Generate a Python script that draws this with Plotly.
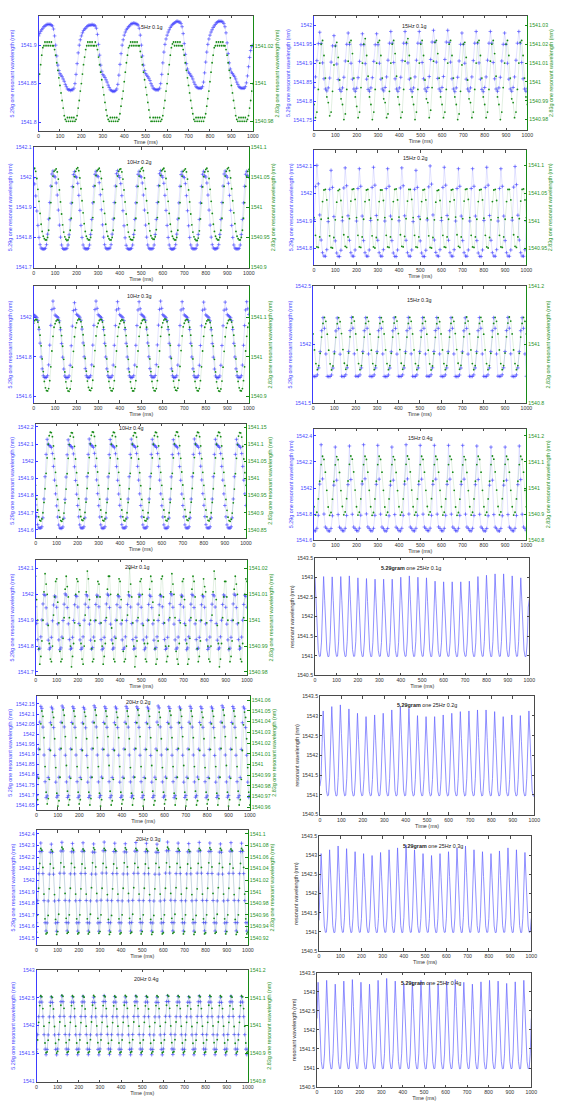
import numpy as np
import plotly.graph_objects as go

# ------------------------------------------------------------------
# Data: resonant wavelength samples. Each series is a list of rows
# (one row per vibration cycle, last row = final sample at 1000 ms),
# values in 0.001 nm above the series base wavelength.
# ------------------------------------------------------------------
TIME_TICKS = [0, 100, 200, 300, 400, 500, 600, 700, 800, 900, 1000]
STEP_5MS = 5.0            # sample spacing (ms) for 5/10/20/25 Hz records
STEP_15HZ = 20.0 / 3.0    # sample spacing (ms) for 15 Hz records

# ---- 5 Hz 0.1 g ----
BASE_B_5HZ_01G = 1541.8
blue_5hz_01g = [
    [112, 115, 118, 120, 122, 124, 125, 126, 127, 127, 127, 127, 126, 125, 121, 112, 100, 86, 74, 67, 63, 61, 59, 56, 53, 49, 46, 43, 42, 42, 41, 42, 42, 44, 50, 62, 76, 90, 100, 107],
    [112, 116, 119, 121, 122, 124, 125, 126, 126, 126, 127, 126, 126, 125, 122, 114, 101, 87, 74, 66, 62, 60, 58, 55, 52, 48, 45, 42, 41, 40, 40, 40, 41, 43, 49, 61, 75, 89, 100, 107],
    [113, 117, 120, 122, 124, 125, 127, 128, 128, 129, 128, 128, 127, 126, 122, 113, 100, 86, 74, 67, 63, 61, 59, 57, 54, 50, 47, 44, 43, 42, 42, 42, 42, 44, 50, 62, 77, 91, 101, 108],
    [113, 117, 120, 123, 125, 127, 128, 129, 130, 131, 131, 130, 130, 128, 124, 115, 102, 88, 76, 69, 65, 63, 61, 59, 56, 52, 49, 46, 45, 44, 44, 44, 44, 46, 52, 64, 78, 91, 101, 108],
    [113, 117, 120, 123, 125, 127, 129, 130, 131, 131, 131, 131, 130, 128, 124, 116, 103, 89, 77, 69, 65, 63, 61, 59, 56, 52, 49, 46, 45, 44, 44, 44, 44, 46, 51, 60, 72, 84, 93, 98],
    [100],
]
BASE_G_5HZ_01G = 1540.97
green_5hz_01g = [
    [30, 35, 40, 45, 49, 50, 52, 50, 52, 50, 52, 50, 52, 50, 50, 48, 45, 41, 37, 33, 29, 25, 21, 17, 13, 11, 10, 12, 10, 12, 10, 12, 10, 12, 10, 11, 13, 17, 21, 26],
    [30, 35, 40, 44, 48, 50, 52, 50, 52, 50, 52, 50, 50, 52, 50, 48, 44, 40, 36, 32, 28, 24, 20, 16, 13, 11, 10, 12, 10, 12, 10, 12, 10, 12, 10, 11, 14, 18, 22, 26],
    [31, 36, 41, 45, 49, 50, 52, 50, 52, 50, 52, 50, 52, 50, 50, 47, 44, 40, 36, 32, 28, 24, 20, 16, 12, 10, 10, 12, 10, 12, 10, 12, 10, 12, 10, 11, 13, 17, 21, 26],
    [30, 35, 40, 45, 49, 51, 52, 50, 52, 50, 52, 50, 52, 50, 50, 48, 45, 41, 37, 33, 29, 25, 21, 17, 14, 11, 10, 12, 10, 12, 10, 12, 10, 12, 10, 12, 14, 18, 22, 26],
    [31, 36, 41, 45, 49, 50, 52, 50, 52, 50, 52, 50, 52, 50, 50, 48, 45, 41, 37, 33, 29, 25, 21, 17, 13, 11, 10, 12, 10, 12, 10, 12, 10, 12, 10, 11, 13, 17, 21, 26],
    [30],
]

# ---- 15 Hz 0.1 g ----
BASE_B_15HZ_01G = 1541.8
blue_15hz_01g = [
    [36, 64, 107, 152, 182, 152, 101, 59, 32, 27],
    [35, 61, 103, 146, 173, 146, 98, 57, 31, 26],
    [35, 63, 106, 150, 180, 150, 100, 58, 32, 26],
    [34, 62, 105, 149, 178, 149, 99, 58, 31, 26],
    [35, 62, 105, 149, 178, 149, 100, 58, 32, 27],
    [36, 64, 108, 153, 184, 153, 102, 59, 32, 26],
    [35, 63, 107, 153, 184, 152, 101, 58, 31, 25],
    [35, 64, 108, 153, 184, 153, 102, 59, 32, 26],
    [36, 65, 110, 156, 187, 156, 103, 60, 32, 26],
    [36, 65, 110, 156, 187, 155, 103, 59, 32, 25],
    [35, 63, 106, 150, 180, 150, 100, 58, 32, 26],
    [35, 64, 107, 153, 184, 153, 101, 58, 31, 25],
    [36, 64, 108, 153, 184, 153, 102, 59, 32, 26],
    [35, 63, 106, 150, 180, 150, 100, 58, 32, 26],
    [36, 64, 108, 153, 184, 153, 102, 59, 32, 26],
    [34],
]
BASE_G_15HZ_01G = 1540.97
green_15hz_01g = [
    [18, 11, 14, 26, 40, 50, 52, 44, 32, 22],
    [19, 12, 14, 25, 39, 49, 51, 43, 31, 21],
    [18, 10, 13, 26, 41, 51, 52, 45, 32, 22],
    [17, 11, 14, 27, 40, 50, 53, 44, 33, 22],
    [18, 10, 14, 26, 40, 51, 52, 44, 32, 21],
    [19, 11, 13, 25, 40, 50, 52, 45, 33, 22],
    [18, 11, 14, 26, 41, 51, 53, 44, 32, 22],
    [18, 10, 14, 26, 40, 50, 52, 44, 31, 21],
    [19, 11, 15, 27, 41, 51, 52, 45, 32, 22],
    [18, 11, 14, 26, 40, 50, 52, 44, 32, 22],
    [18, 10, 13, 25, 39, 50, 51, 43, 31, 21],
    [19, 11, 14, 26, 40, 51, 52, 44, 32, 22],
    [18, 11, 14, 26, 41, 50, 52, 45, 33, 22],
    [18, 10, 14, 27, 40, 50, 52, 44, 32, 21],
    [19, 11, 14, 26, 40, 51, 52, 44, 32, 22],
    [18],
]

# ---- 10 Hz 0.2 g ----
BASE_B_10HZ_02G = 1541.7
blue_10hz_02g = [
    [298, 278, 238, 188, 140, 100, 76, 65, 62, 61, 62, 64, 76, 111, 161, 216, 271, 311, 321, 304],
    [301, 281, 241, 191, 141, 101, 75, 64, 61, 61, 62, 64, 75, 109, 159, 214, 269, 309, 319, 303],
    [300, 280, 240, 190, 140, 100, 75, 65, 62, 62, 62, 64, 75, 110, 160, 215, 270, 310, 320, 305],
    [302, 282, 242, 192, 142, 101, 76, 65, 62, 62, 63, 65, 76, 111, 161, 216, 271, 312, 322, 306],
    [299, 279, 239, 189, 139, 99, 74, 64, 61, 61, 62, 64, 75, 110, 160, 215, 270, 310, 320, 304],
    [301, 281, 241, 191, 141, 101, 75, 65, 62, 62, 62, 64, 75, 110, 160, 216, 272, 312, 322, 306],
    [300, 280, 240, 190, 140, 100, 75, 64, 61, 61, 62, 64, 76, 111, 161, 215, 270, 309, 319, 303],
    [299, 279, 239, 189, 139, 100, 75, 65, 62, 62, 62, 64, 75, 110, 160, 215, 270, 310, 320, 305],
    [301, 281, 241, 191, 141, 101, 76, 65, 62, 62, 63, 65, 76, 110, 160, 216, 271, 311, 321, 305],
    [300, 280, 240, 190, 140, 100, 75, 65, 62, 62, 62, 64, 75, 110, 160, 215, 270, 310, 320, 305],
    [300],
]
BASE_G_10HZ_02G = 1540.9
green_10hz_02g = [
    [163, 165, 160, 148, 130, 110, 90, 72, 60, 52, 48, 46, 46, 50, 62, 82, 108, 135, 152, 160],
    [162, 164, 159, 147, 129, 109, 89, 71, 59, 51, 47, 45, 46, 50, 62, 82, 108, 134, 151, 160],
    [164, 166, 161, 149, 131, 111, 91, 73, 60, 52, 48, 46, 46, 50, 62, 83, 109, 136, 153, 161],
    [163, 165, 160, 148, 130, 110, 90, 72, 60, 52, 48, 46, 46, 50, 62, 82, 108, 135, 152, 160],
    [163, 164, 159, 147, 129, 109, 89, 71, 59, 51, 47, 46, 46, 50, 62, 82, 108, 135, 152, 160],
    [164, 166, 161, 149, 131, 111, 91, 73, 61, 53, 49, 47, 47, 51, 63, 83, 109, 136, 153, 161],
    [163, 165, 160, 148, 130, 110, 90, 72, 60, 52, 48, 46, 46, 50, 62, 82, 108, 135, 152, 160],
    [162, 164, 159, 147, 129, 109, 89, 71, 59, 51, 47, 45, 45, 49, 61, 81, 107, 134, 151, 159],
    [163, 165, 160, 148, 130, 110, 90, 72, 60, 52, 48, 46, 46, 50, 62, 82, 108, 135, 152, 160],
    [164, 166, 161, 149, 131, 111, 91, 73, 60, 52, 48, 46, 46, 50, 62, 82, 108, 135, 152, 160],
    [163],
]

# ---- 15 Hz 0.2 g ----
BASE_B_15HZ_02G = 1541.7
blue_15hz_02g = [
    [205, 325, 402, 335, 222, 131, 85, 73, 72, 96],
    [198, 315, 384, 322, 216, 128, 84, 72, 71, 94],
    [201, 320, 393, 328, 219, 130, 85, 73, 72, 95],
    [200, 318, 390, 326, 218, 129, 85, 73, 72, 95],
    [202, 322, 395, 330, 220, 130, 85, 73, 72, 96],
    [200, 318, 390, 326, 218, 129, 84, 72, 71, 95],
    [201, 320, 393, 328, 219, 130, 85, 73, 72, 95],
    [198, 315, 384, 322, 216, 128, 84, 72, 71, 94],
    [204, 324, 400, 334, 222, 131, 86, 74, 72, 96],
    [202, 322, 395, 330, 220, 130, 85, 73, 72, 96],
    [200, 318, 390, 326, 218, 129, 85, 73, 72, 95],
    [200, 318, 390, 326, 218, 129, 84, 72, 71, 95],
    [202, 322, 395, 330, 220, 130, 85, 73, 72, 96],
    [200, 318, 390, 326, 218, 129, 85, 73, 72, 95],
    [203, 323, 398, 332, 221, 131, 85, 73, 72, 96],
    [200],
]
BASE_G_15HZ_02G = 1540.9
green_15hz_02g = [
    [106, 74, 53, 52, 71, 103, 135, 156, 157, 138],
    [105, 73, 52, 51, 70, 102, 134, 155, 157, 137],
    [107, 75, 54, 52, 71, 104, 136, 157, 158, 139],
    [106, 74, 53, 52, 71, 103, 135, 156, 157, 138],
    [105, 73, 53, 51, 70, 102, 135, 156, 156, 137],
    [106, 74, 53, 52, 71, 103, 135, 157, 158, 138],
    [107, 75, 54, 53, 72, 104, 136, 157, 157, 139],
    [106, 74, 53, 52, 71, 103, 135, 156, 157, 138],
    [105, 73, 52, 51, 70, 102, 134, 155, 156, 137],
    [106, 74, 53, 52, 71, 103, 135, 156, 157, 138],
    [107, 75, 54, 52, 71, 104, 136, 157, 158, 139],
    [106, 74, 53, 52, 71, 103, 135, 156, 157, 138],
    [105, 74, 53, 51, 70, 102, 135, 156, 157, 137],
    [106, 74, 53, 52, 71, 103, 135, 157, 157, 138],
    [106, 75, 54, 52, 71, 104, 136, 157, 158, 138],
    [106],
]

# ---- 10 Hz 0.3 g ----
BASE_B_10HZ_03G = 1541.5
blue_10hz_03g = [
    [515, 510, 505, 500, 485, 440, 370, 300, 240, 205, 197, 196, 197, 205, 260, 360, 460, 540, 583, 546],
    [512, 507, 503, 498, 483, 438, 368, 299, 239, 204, 196, 195, 196, 204, 258, 357, 456, 535, 575, 540],
    [516, 511, 506, 501, 486, 441, 371, 301, 241, 205, 197, 196, 197, 205, 260, 360, 460, 540, 583, 546],
    [514, 509, 504, 499, 484, 439, 369, 300, 240, 205, 197, 196, 197, 205, 259, 359, 459, 538, 580, 544],
    [514, 509, 504, 499, 484, 439, 369, 300, 240, 205, 197, 196, 197, 205, 259, 359, 459, 538, 580, 544],
    [516, 511, 506, 501, 486, 441, 371, 301, 241, 206, 198, 197, 198, 206, 261, 361, 461, 541, 583, 546],
    [514, 509, 504, 499, 484, 439, 369, 300, 240, 205, 197, 196, 197, 205, 259, 359, 459, 538, 580, 544],
    [513, 508, 504, 499, 484, 439, 369, 300, 240, 205, 197, 196, 197, 205, 258, 358, 458, 537, 578, 542],
    [513, 508, 503, 498, 483, 438, 368, 299, 239, 204, 196, 195, 196, 204, 258, 358, 458, 537, 578, 542],
    [514, 509, 504, 499, 484, 439, 369, 300, 240, 205, 197, 196, 197, 205, 259, 359, 459, 538, 580, 544],
    [515],
]
BASE_G_10HZ_03G = 1540.8
green_10hz_03g = [
    [285, 292, 295, 294, 288, 275, 255, 228, 195, 163, 138, 122, 115, 114, 120, 140, 175, 215, 252, 275],
    [284, 291, 294, 293, 287, 274, 254, 227, 194, 162, 137, 121, 114, 113, 119, 139, 174, 214, 251, 274],
    [286, 293, 296, 295, 289, 276, 256, 229, 196, 164, 139, 123, 116, 115, 121, 141, 176, 216, 253, 276],
    [285, 292, 295, 294, 288, 275, 255, 228, 195, 163, 138, 122, 115, 114, 120, 140, 175, 215, 252, 275],
    [284, 291, 294, 293, 287, 274, 254, 227, 194, 162, 137, 121, 114, 114, 120, 140, 175, 215, 252, 275],
    [285, 292, 295, 294, 288, 275, 255, 228, 195, 163, 138, 122, 115, 114, 120, 140, 175, 215, 252, 275],
    [286, 293, 296, 295, 289, 276, 256, 229, 196, 164, 139, 123, 116, 115, 121, 141, 176, 216, 253, 276],
    [285, 292, 295, 294, 288, 275, 255, 228, 195, 163, 138, 122, 115, 114, 120, 140, 175, 215, 252, 275],
    [284, 291, 294, 293, 287, 274, 254, 227, 194, 162, 137, 121, 114, 113, 119, 139, 174, 214, 251, 274],
    [285, 292, 295, 294, 288, 275, 255, 228, 195, 163, 138, 122, 115, 114, 120, 140, 175, 215, 252, 275],
    [285],
]

# ---- 15 Hz 0.3 g ----
BASE_B_15HZ_03G = 1541.5
blue_15hz_03g = [
    [228, 226, 227, 240, 300, 440, 620, 732, 640, 420],
    [227, 225, 226, 239, 299, 438, 618, 730, 638, 418],
    [228, 226, 227, 241, 301, 441, 621, 734, 641, 421],
    [229, 227, 228, 240, 300, 440, 620, 732, 640, 420],
    [228, 226, 227, 240, 300, 440, 620, 733, 640, 420],
    [227, 225, 226, 239, 299, 439, 619, 731, 639, 419],
    [228, 226, 227, 240, 300, 440, 620, 734, 641, 421],
    [228, 226, 227, 240, 300, 440, 620, 732, 640, 420],
    [229, 227, 228, 241, 301, 441, 621, 733, 640, 420],
    [228, 226, 227, 240, 300, 440, 620, 732, 640, 420],
    [227, 225, 226, 239, 299, 439, 619, 731, 639, 419],
    [228, 226, 227, 240, 300, 440, 620, 733, 640, 420],
    [228, 226, 227, 240, 300, 440, 620, 732, 640, 420],
    [229, 227, 228, 241, 301, 441, 621, 734, 641, 421],
    [228, 226, 227, 240, 300, 440, 620, 732, 640, 420],
    [228],
]
BASE_G_15HZ_03G = 1540.8
green_15hz_03g = [
    [237, 182, 135, 114, 128, 170, 226, 273, 294, 280],
    [236, 181, 134, 113, 127, 169, 225, 272, 293, 279],
    [238, 183, 136, 115, 129, 171, 227, 274, 295, 281],
    [237, 182, 135, 114, 128, 170, 226, 273, 294, 280],
    [236, 181, 135, 114, 128, 170, 226, 273, 293, 279],
    [237, 182, 135, 114, 128, 170, 226, 274, 295, 281],
    [238, 183, 136, 115, 128, 170, 226, 273, 294, 280],
    [237, 182, 135, 114, 128, 170, 226, 273, 294, 280],
    [236, 181, 134, 113, 127, 169, 225, 272, 293, 279],
    [237, 182, 135, 114, 128, 170, 226, 273, 294, 280],
    [238, 183, 136, 115, 129, 171, 227, 274, 295, 281],
    [237, 182, 135, 114, 128, 170, 226, 273, 294, 280],
    [236, 182, 135, 114, 128, 170, 226, 273, 294, 280],
    [237, 182, 135, 114, 128, 171, 227, 274, 295, 281],
    [237, 182, 135, 114, 128, 170, 226, 273, 294, 280],
    [237],
]

# ---- 10 Hz 0.4 g ----
BASE_B_10HZ_04G = 1541.5
blue_10hz_04g = [
    [245, 178, 130, 112, 110, 110, 118, 170, 280, 410, 540, 628, 600, 592, 588, 580, 545, 470, 390, 310],
    [240, 175, 128, 111, 109, 109, 117, 168, 278, 408, 538, 625, 598, 590, 586, 578, 543, 468, 388, 308],
    [242, 176, 129, 112, 110, 110, 118, 170, 280, 410, 540, 630, 602, 593, 589, 581, 546, 471, 391, 311],
    [241, 175, 129, 111, 109, 110, 118, 169, 279, 409, 539, 627, 599, 591, 587, 579, 544, 469, 389, 309],
    [243, 177, 130, 112, 110, 110, 118, 170, 280, 410, 540, 629, 601, 592, 588, 580, 545, 470, 390, 310],
    [242, 176, 129, 112, 110, 110, 118, 170, 280, 410, 540, 628, 600, 592, 588, 580, 545, 470, 390, 310],
    [241, 175, 129, 111, 109, 109, 117, 169, 279, 409, 539, 626, 599, 591, 587, 579, 544, 469, 389, 309],
    [242, 176, 129, 112, 110, 110, 118, 170, 280, 410, 540, 630, 602, 593, 589, 581, 546, 471, 391, 311],
    [243, 177, 130, 112, 110, 110, 118, 170, 280, 410, 540, 628, 600, 592, 588, 580, 545, 470, 390, 310],
    [242, 176, 129, 112, 110, 110, 118, 170, 280, 410, 540, 628, 600, 592, 588, 580, 545, 470, 390, 310],
    [242],
]
BASE_G_10HZ_04G = 1540.8
green_10hz_04g = [
    [180, 140, 108, 88, 78, 76, 82, 100, 130, 170, 215, 260, 300, 325, 335, 334, 322, 295, 258, 218],
    [179, 139, 107, 87, 77, 75, 81, 99, 129, 169, 214, 259, 299, 324, 334, 333, 321, 294, 257, 217],
    [181, 141, 109, 89, 79, 77, 83, 101, 131, 171, 216, 261, 301, 326, 336, 335, 323, 296, 259, 219],
    [180, 140, 108, 88, 78, 76, 82, 100, 130, 170, 215, 260, 300, 325, 335, 334, 322, 295, 258, 218],
    [180, 140, 108, 88, 78, 76, 82, 100, 130, 170, 215, 260, 300, 325, 334, 333, 321, 294, 257, 217],
    [179, 139, 107, 87, 77, 76, 82, 100, 130, 170, 215, 260, 300, 325, 335, 334, 322, 295, 258, 218],
    [180, 140, 108, 88, 78, 76, 82, 100, 130, 170, 215, 260, 301, 326, 336, 335, 323, 296, 259, 219],
    [181, 141, 109, 89, 79, 77, 83, 101, 131, 171, 216, 261, 300, 325, 335, 334, 322, 295, 258, 218],
    [180, 140, 108, 88, 78, 76, 82, 100, 130, 170, 215, 260, 300, 325, 335, 334, 322, 295, 258, 218],
    [179, 139, 107, 87, 77, 75, 81, 99, 129, 169, 214, 259, 299, 324, 334, 333, 321, 294, 257, 217],
    [180],
]

# ---- 15 Hz 0.4 g ----
BASE_B_15HZ_04G = 1541.6
blue_15hz_04g = [
    [72, 70, 90, 190, 430, 733, 470, 200, 100, 88],
    [71, 69, 89, 187, 422, 715, 460, 196, 99, 87],
    [72, 70, 90, 189, 426, 723, 465, 198, 100, 88],
    [73, 70, 91, 191, 431, 733, 471, 201, 101, 88],
    [72, 70, 90, 190, 428, 728, 468, 199, 100, 88],
    [71, 69, 89, 187, 422, 715, 460, 196, 99, 87],
    [72, 70, 90, 190, 430, 733, 470, 200, 100, 88],
    [72, 70, 90, 190, 428, 728, 468, 199, 100, 88],
    [73, 71, 91, 190, 428, 728, 468, 199, 101, 89],
    [72, 70, 90, 190, 428, 728, 468, 199, 100, 88],
    [72, 70, 90, 190, 428, 728, 468, 199, 100, 88],
    [72, 70, 90, 189, 426, 723, 465, 198, 100, 88],
    [71, 69, 89, 187, 422, 715, 460, 196, 99, 87],
    [71, 69, 89, 187, 422, 715, 460, 196, 99, 87],
    [72, 70, 90, 189, 426, 723, 465, 198, 100, 88],
    [72],
]
BASE_G_15HZ_04G = 1540.8
green_15hz_04g = [
    [128, 96, 107, 158, 226, 290, 322, 310, 261, 191],
    [127, 95, 106, 157, 225, 289, 321, 309, 260, 190],
    [129, 97, 108, 159, 227, 291, 323, 311, 262, 192],
    [128, 96, 107, 158, 226, 290, 322, 310, 261, 191],
    [128, 95, 106, 158, 226, 290, 322, 310, 261, 191],
    [127, 96, 107, 158, 226, 290, 321, 309, 260, 190],
    [128, 96, 107, 158, 226, 291, 323, 311, 262, 192],
    [128, 96, 107, 158, 226, 290, 322, 310, 261, 191],
    [129, 97, 108, 159, 227, 290, 322, 310, 261, 191],
    [128, 96, 107, 158, 226, 290, 322, 310, 261, 191],
    [127, 95, 106, 157, 225, 289, 321, 309, 260, 190],
    [128, 96, 107, 158, 226, 290, 322, 310, 261, 191],
    [128, 96, 107, 158, 226, 290, 323, 311, 262, 192],
    [129, 97, 108, 159, 227, 291, 322, 310, 261, 191],
    [128, 96, 107, 158, 226, 290, 322, 310, 261, 191],
    [128],
]

# ---- 20 Hz 0.1 g ----
BASE_B_20HZ_01G = 1541.7
blue_20hz_01g = [
    [252, 188, 125, 87, 92, 136, 201, 263, 300, 296],
    [248, 185, 123, 88, 94, 134, 198, 259, 294, 290],
    [250, 186, 124, 86, 93, 135, 199, 262, 302, 297],
    [249, 186, 125, 88, 92, 134, 199, 260, 296, 292],
    [251, 187, 124, 87, 93, 136, 200, 262, 299, 294],
    [250, 185, 123, 88, 94, 135, 198, 261, 297, 293],
    [252, 188, 125, 86, 92, 134, 199, 263, 301, 296],
    [249, 185, 124, 88, 93, 135, 200, 260, 295, 291],
    [250, 186, 124, 87, 93, 136, 199, 261, 298, 294],
    [251, 187, 125, 88, 92, 134, 198, 262, 300, 295],
    [250, 186, 124, 86, 93, 135, 200, 261, 297, 292],
    [249, 186, 123, 88, 94, 136, 199, 260, 296, 293],
    [252, 188, 125, 87, 92, 134, 201, 264, 303, 298],
    [250, 185, 124, 88, 93, 135, 199, 261, 297, 293],
    [251, 187, 124, 86, 93, 136, 200, 262, 300, 295],
    [249, 186, 125, 88, 92, 134, 198, 260, 295, 291],
    [250, 186, 124, 87, 94, 135, 199, 262, 299, 294],
    [251, 187, 123, 88, 93, 136, 200, 261, 298, 293],
    [250, 185, 124, 86, 92, 134, 199, 263, 301, 296],
    [249, 186, 125, 88, 93, 135, 200, 261, 297, 292],
    [250],
]
BASE_G_20HZ_01G = 1540.97
green_20hz_01g = [
    [47, 38, 30, 19, 13, 16, 22, 30, 41, 48],
    [44, 40, 28, 21, 15, 14, 20, 32, 39, 45],
    [46, 37, 29, 18, 14, 15, 23, 31, 42, 47],
    [43, 39, 31, 20, 12, 16, 21, 29, 40, 46],
    [45, 41, 28, 21, 15, 13, 20, 32, 41, 49],
    [46, 38, 30, 19, 14, 15, 22, 30, 39, 45],
    [44, 39, 29, 20, 13, 16, 21, 31, 42, 47],
    [47, 40, 27, 21, 15, 14, 23, 30, 40, 46],
    [45, 38, 30, 18, 14, 15, 20, 32, 41, 50],
    [44, 39, 29, 20, 12, 16, 22, 31, 39, 45],
    [46, 40, 28, 21, 15, 14, 21, 30, 42, 47],
    [45, 37, 30, 19, 13, 15, 22, 32, 40, 46],
    [47, 39, 29, 20, 14, 16, 20, 31, 41, 48],
    [44, 40, 31, 18, 15, 13, 21, 29, 39, 45],
    [46, 38, 28, 21, 13, 15, 23, 31, 42, 47],
    [45, 39, 30, 19, 14, 16, 22, 30, 40, 46],
    [43, 41, 29, 20, 15, 14, 20, 32, 41, 49],
    [46, 38, 28, 21, 12, 15, 21, 31, 39, 45],
    [45, 39, 30, 19, 14, 16, 22, 30, 42, 47],
    [44, 40, 29, 20, 15, 14, 21, 31, 40, 46],
    [45],
]

# ---- 25 Hz 0.1 g (5.29 g grating only) ----
BASE_25HZ_01G = 1540.0
line_25hz_01g = [
    [3000, 2400, 1700, 1150, 985, 990, 1350, 2250],
    [3025, 2420, 1710, 1150, 980, 985, 1360, 2260],
    [3017, 2410, 1705, 1145, 985, 990, 1355, 2255],
    [3025, 2420, 1710, 1150, 980, 988, 1360, 2260],
    [3042, 2430, 1715, 1155, 985, 990, 1360, 2265],
    [2992, 2395, 1695, 1145, 982, 986, 1350, 2245],
    [2975, 2385, 1690, 1140, 980, 985, 1345, 2240],
    [2958, 2370, 1685, 1140, 985, 990, 1340, 2230],
    [2958, 2370, 1685, 1140, 982, 986, 1340, 2230],
    [2958, 2370, 1685, 1140, 980, 985, 1340, 2230],
    [3008, 2405, 1700, 1148, 985, 990, 1352, 2250],
    [3042, 2430, 1715, 1155, 982, 988, 1360, 2265],
    [3008, 2405, 1700, 1148, 985, 990, 1352, 2250],
    [2992, 2395, 1695, 1145, 980, 985, 1350, 2245],
    [2907, 2330, 1665, 1130, 982, 988, 1330, 2200],
    [2890, 2320, 1660, 1128, 985, 990, 1325, 2190],
    [2890, 2320, 1660, 1128, 980, 985, 1325, 2190],
    [2890, 2320, 1660, 1128, 985, 990, 1325, 2190],
    [2907, 2330, 1665, 1130, 982, 986, 1330, 2200],
    [3025, 2420, 1710, 1150, 985, 990, 1360, 2260],
    [3059, 2445, 1720, 1158, 980, 985, 1365, 2275],
    [3093, 2470, 1735, 1165, 985, 990, 1370, 2290],
    [3093, 2470, 1735, 1165, 982, 988, 1370, 2290],
    [3042, 2430, 1715, 1155, 985, 990, 1360, 2265],
    [2992, 2395, 1695, 1145, 980, 986, 1350, 2245],
    [2450],
]

# ---- 20 Hz 0.2 g ----
BASE_B_20HZ_02G = 1541.6
blue_20hz_02g = [
    [96, 188, 327, 460, 538, 528, 435, 297, 165, 86],
    [95, 186, 325, 457, 534, 525, 433, 295, 163, 88],
    [97, 187, 326, 459, 540, 530, 436, 296, 164, 87],
    [96, 188, 327, 458, 536, 527, 434, 297, 165, 86],
    [95, 186, 324, 456, 533, 524, 432, 295, 163, 87],
    [96, 187, 327, 460, 541, 531, 436, 297, 164, 88],
    [97, 188, 326, 458, 536, 527, 434, 296, 165, 86],
    [96, 186, 325, 457, 535, 526, 433, 296, 163, 87],
    [95, 187, 327, 459, 538, 528, 435, 297, 164, 88],
    [96, 188, 326, 458, 536, 527, 434, 296, 165, 86],
    [97, 186, 325, 457, 534, 525, 433, 295, 163, 87],
    [96, 187, 327, 460, 540, 530, 436, 297, 164, 88],
    [95, 188, 326, 458, 536, 527, 434, 296, 165, 86],
    [96, 186, 325, 457, 535, 526, 433, 296, 163, 87],
    [97, 187, 327, 459, 538, 528, 435, 297, 164, 88],
    [96, 188, 326, 458, 536, 527, 434, 296, 165, 86],
    [95, 186, 325, 457, 535, 526, 433, 295, 163, 87],
    [96, 187, 327, 460, 541, 531, 436, 297, 164, 88],
    [97, 188, 326, 458, 537, 527, 434, 296, 165, 86],
    [96, 186, 325, 457, 535, 526, 433, 296, 163, 87],
    [96],
]
BASE_G_20HZ_02G = 1540.95
green_20hz_02g = [
    [12, 17, 37, 64, 88, 100, 95, 75, 48, 24],
    [13, 18, 36, 63, 87, 99, 94, 74, 47, 23],
    [11, 16, 38, 65, 89, 101, 96, 76, 49, 25],
    [12, 17, 37, 64, 88, 100, 95, 75, 48, 24],
    [13, 17, 36, 63, 88, 99, 95, 74, 47, 24],
    [12, 18, 38, 65, 89, 101, 96, 75, 48, 23],
    [11, 17, 37, 64, 88, 100, 95, 76, 49, 25],
    [12, 16, 36, 63, 87, 99, 94, 75, 48, 24],
    [13, 17, 37, 64, 88, 100, 95, 74, 47, 23],
    [12, 18, 38, 65, 89, 101, 96, 76, 48, 24],
    [11, 17, 37, 64, 88, 100, 95, 75, 49, 25],
    [12, 16, 36, 63, 87, 99, 94, 74, 47, 24],
    [13, 17, 37, 64, 88, 100, 96, 75, 48, 23],
    [12, 18, 38, 65, 89, 101, 95, 76, 49, 24],
    [11, 17, 37, 64, 88, 100, 95, 75, 48, 25],
    [12, 16, 36, 63, 87, 99, 94, 74, 47, 24],
    [13, 17, 37, 64, 88, 100, 95, 75, 48, 23],
    [12, 18, 38, 65, 89, 101, 96, 76, 49, 24],
    [11, 17, 37, 64, 88, 100, 95, 75, 48, 25],
    [12, 17, 36, 63, 87, 99, 94, 74, 47, 24],
    [12],
]

# ---- 25 Hz 0.2 g ----
BASE_25HZ_02G = 1540.0
line_25hz_02g = [
    [1220, 1420, 2330, 3127, 2440, 1680, 1110, 975],
    [990, 1430, 2370, 3237, 2520, 1720, 1120, 970],
    [985, 1440, 2390, 3280, 2550, 1730, 1125, 975],
    [990, 1420, 2340, 3178, 2470, 1700, 1115, 970],
    [985, 1400, 2300, 3068, 2400, 1660, 1100, 975],
    [990, 1385, 2260, 2983, 2340, 1630, 1090, 975],
    [988, 1390, 2280, 3025, 2370, 1645, 1095, 970],
    [990, 1400, 2300, 3068, 2400, 1660, 1100, 975],
    [985, 1420, 2350, 3152, 2460, 1690, 1110, 970],
    [990, 1430, 2370, 3237, 2520, 1720, 1120, 975],
    [988, 1425, 2360, 3195, 2490, 1705, 1115, 970],
    [990, 1390, 2280, 3008, 2360, 1640, 1095, 975],
    [985, 1385, 2260, 2983, 2340, 1630, 1090, 970],
    [990, 1385, 2260, 2983, 2340, 1630, 1090, 975],
    [988, 1390, 2280, 3025, 2370, 1645, 1095, 970],
    [990, 1400, 2300, 3068, 2400, 1660, 1100, 975],
    [985, 1410, 2320, 3110, 2430, 1675, 1105, 970],
    [990, 1420, 2330, 3127, 2440, 1680, 1110, 975],
    [988, 1420, 2350, 3152, 2460, 1690, 1110, 970],
    [990, 1420, 2350, 3152, 2460, 1690, 1110, 975],
    [985, 1410, 2320, 3110, 2430, 1675, 1105, 970],
    [990, 1385, 2260, 2983, 2340, 1630, 1090, 975],
    [988, 1390, 2280, 3025, 2370, 1645, 1095, 970],
    [990, 1390, 2275, 3008, 2360, 1640, 1095, 975],
    [985, 1420, 2330, 3127, 2440, 1680, 1110, 970],
    [960],
]

# ---- 20 Hz 0.3 g ----
BASE_B_20HZ_03G = 1541.4
blue_20hz_03g = [
    [232, 423, 657, 848, 922, 849, 657, 423, 232, 160],
    [230, 420, 652, 842, 912, 841, 652, 420, 230, 158],
    [233, 425, 660, 852, 928, 853, 660, 425, 233, 161],
    [231, 422, 655, 846, 918, 845, 655, 422, 231, 159],
    [232, 424, 658, 850, 924, 850, 658, 424, 232, 160],
    [230, 421, 653, 843, 914, 842, 653, 421, 230, 158],
    [233, 426, 661, 854, 930, 855, 661, 426, 233, 161],
    [232, 423, 657, 848, 920, 848, 657, 423, 232, 160],
    [231, 421, 654, 845, 916, 844, 654, 421, 231, 159],
    [233, 425, 659, 851, 926, 852, 659, 425, 233, 161],
    [232, 423, 656, 847, 919, 847, 656, 423, 232, 160],
    [230, 420, 652, 842, 912, 841, 652, 420, 230, 158],
    [233, 426, 661, 854, 930, 855, 661, 426, 233, 161],
    [232, 423, 657, 848, 921, 848, 657, 423, 232, 160],
    [231, 422, 655, 846, 917, 845, 655, 422, 231, 159],
    [233, 425, 660, 852, 927, 853, 660, 425, 233, 161],
    [232, 424, 658, 849, 922, 849, 658, 424, 232, 160],
    [230, 421, 653, 843, 914, 842, 653, 421, 230, 158],
    [233, 425, 659, 851, 925, 851, 659, 425, 233, 161],
    [232, 423, 657, 848, 920, 848, 657, 423, 232, 160],
    [232],
]
BASE_G_20HZ_03G = 1540.9
green_20hz_03g = [
    [30, 60, 106, 149, 175, 172, 142, 96, 53, 27],
    [29, 59, 105, 148, 173, 170, 141, 95, 52, 26],
    [31, 61, 107, 150, 177, 174, 143, 97, 54, 28],
    [30, 60, 106, 149, 175, 172, 142, 96, 53, 27],
    [29, 60, 105, 148, 174, 171, 141, 96, 53, 27],
    [30, 61, 107, 150, 176, 173, 143, 97, 54, 28],
    [31, 60, 106, 149, 175, 172, 142, 95, 52, 26],
    [30, 59, 105, 148, 174, 171, 141, 96, 53, 27],
    [29, 60, 106, 150, 176, 173, 143, 97, 54, 28],
    [30, 61, 107, 149, 175, 172, 142, 96, 53, 27],
    [31, 60, 106, 148, 174, 171, 141, 95, 52, 26],
    [30, 59, 105, 149, 175, 172, 142, 96, 53, 27],
    [29, 60, 106, 150, 177, 174, 143, 97, 54, 28],
    [30, 61, 107, 149, 175, 172, 142, 96, 53, 27],
    [31, 60, 106, 148, 173, 170, 141, 95, 52, 26],
    [30, 59, 105, 149, 175, 172, 142, 96, 53, 27],
    [29, 60, 106, 150, 176, 173, 143, 97, 54, 28],
    [30, 61, 107, 149, 175, 172, 142, 96, 53, 27],
    [31, 60, 106, 148, 174, 171, 141, 95, 52, 26],
    [30, 60, 106, 149, 175, 172, 142, 96, 53, 27],
    [30],
]

# ---- 25 Hz 0.3 g ----
BASE_25HZ_03G = 1540.0
line_25hz_03g = [
    [1300, 2230, 3050, 2420, 1710, 1150, 985, 990],
    [1360, 2290, 3150, 2490, 1740, 1160, 980, 985],
    [1370, 2330, 3250, 2560, 1770, 1170, 985, 990],
    [1365, 2300, 3180, 2510, 1750, 1165, 980, 988],
    [1355, 2280, 3100, 2450, 1720, 1155, 985, 990],
    [1350, 2260, 3050, 2420, 1710, 1150, 982, 986],
    [1345, 2240, 3000, 2380, 1690, 1145, 980, 985],
    [1350, 2270, 3080, 2440, 1715, 1152, 985, 990],
    [1360, 2290, 3150, 2490, 1740, 1160, 982, 986],
    [1365, 2310, 3200, 2520, 1755, 1165, 980, 985],
    [1375, 2340, 3280, 2580, 1780, 1175, 985, 990],
    [1360, 2290, 3150, 2490, 1740, 1160, 982, 988],
    [1350, 2260, 3050, 2420, 1710, 1150, 985, 990],
    [1345, 2240, 3000, 2380, 1690, 1145, 980, 985],
    [1350, 2260, 3050, 2420, 1710, 1150, 985, 990],
    [1355, 2280, 3100, 2450, 1720, 1155, 982, 986],
    [1365, 2310, 3200, 2520, 1755, 1165, 980, 985],
    [1370, 2330, 3250, 2560, 1770, 1170, 985, 990],
    [1360, 2290, 3150, 2490, 1740, 1160, 982, 988],
    [1355, 2280, 3100, 2450, 1720, 1155, 985, 990],
    [1350, 2260, 3050, 2420, 1710, 1150, 980, 985],
    [1358, 2285, 3120, 2470, 1730, 1158, 985, 990],
    [1365, 2310, 3200, 2520, 1755, 1165, 982, 986],
    [1360, 2290, 3150, 2490, 1740, 1160, 980, 985],
    [1352, 2270, 3080, 2440, 1715, 1152, 985, 990],
    [1350],
]

# ---- 20 Hz 0.4 g ----
BASE_B_20HZ_04G = 1541.0
blue_20hz_04g = [
    [579, 839, 1161, 1421, 1520, 1421, 1161, 839, 579, 480],
    [575, 835, 1158, 1418, 1512, 1415, 1158, 836, 576, 478],
    [582, 842, 1165, 1428, 1532, 1428, 1165, 842, 582, 482],
    [578, 838, 1160, 1420, 1518, 1420, 1160, 838, 578, 480],
    [580, 840, 1163, 1424, 1526, 1424, 1163, 840, 580, 481],
    [576, 836, 1158, 1417, 1510, 1416, 1158, 836, 576, 478],
    [583, 843, 1166, 1430, 1536, 1430, 1166, 843, 583, 483],
    [579, 839, 1161, 1421, 1520, 1421, 1161, 839, 579, 480],
    [577, 837, 1159, 1419, 1515, 1418, 1159, 837, 577, 479],
    [581, 841, 1164, 1426, 1529, 1426, 1164, 841, 581, 481],
    [579, 839, 1161, 1421, 1521, 1421, 1161, 839, 579, 480],
    [575, 835, 1158, 1418, 1512, 1415, 1158, 836, 576, 478],
    [583, 843, 1166, 1430, 1536, 1430, 1166, 843, 583, 483],
    [579, 839, 1161, 1422, 1522, 1422, 1161, 839, 579, 480],
    [577, 837, 1159, 1419, 1516, 1418, 1159, 837, 577, 479],
    [582, 842, 1165, 1427, 1531, 1427, 1165, 842, 582, 482],
    [579, 839, 1161, 1421, 1520, 1421, 1161, 839, 579, 480],
    [576, 836, 1158, 1417, 1511, 1416, 1158, 836, 576, 478],
    [581, 841, 1164, 1425, 1527, 1425, 1164, 841, 581, 481],
    [579, 839, 1161, 1421, 1520, 1421, 1161, 839, 579, 480],
    [579],
]
BASE_G_20HZ_04G = 1540.8
green_20hz_04g = [
    [107, 149, 212, 272, 307, 303, 261, 198, 138, 103],
    [106, 148, 211, 271, 305, 301, 260, 197, 137, 102],
    [108, 150, 213, 273, 309, 305, 262, 199, 139, 104],
    [107, 149, 212, 272, 307, 303, 261, 198, 138, 103],
    [106, 149, 211, 271, 306, 302, 260, 198, 138, 103],
    [107, 150, 213, 273, 308, 304, 262, 199, 139, 104],
    [108, 149, 212, 272, 307, 303, 261, 197, 137, 102],
    [107, 148, 211, 271, 306, 302, 260, 198, 138, 103],
    [106, 149, 212, 273, 308, 304, 262, 199, 139, 104],
    [107, 150, 213, 272, 307, 303, 261, 198, 138, 103],
    [108, 149, 212, 271, 306, 302, 260, 197, 137, 102],
    [107, 148, 211, 272, 307, 303, 261, 198, 138, 103],
    [106, 149, 212, 273, 309, 305, 262, 199, 139, 104],
    [107, 150, 213, 272, 307, 303, 261, 198, 138, 103],
    [108, 149, 212, 271, 305, 301, 260, 197, 137, 102],
    [107, 148, 211, 272, 307, 303, 261, 198, 138, 103],
    [106, 149, 212, 273, 308, 304, 262, 199, 139, 104],
    [107, 150, 213, 272, 307, 303, 261, 198, 138, 103],
    [108, 149, 212, 271, 306, 302, 260, 197, 137, 102],
    [107, 149, 212, 272, 307, 303, 261, 198, 138, 103],
    [107],
]

# ---- 25 Hz 0.4 g ----
BASE_25HZ_04G = 1540.0
line_25hz_04g = [
    [2300, 3250, 2560, 1770, 1170, 985, 990, 1370],
    [2320, 3300, 2600, 1790, 1175, 980, 985, 1375],
    [2290, 3200, 2530, 1760, 1165, 985, 990, 1365],
    [2310, 3280, 2580, 1780, 1172, 982, 986, 1372],
    [2330, 3320, 2610, 1795, 1178, 985, 990, 1378],
    [2300, 3250, 2560, 1770, 1170, 980, 985, 1370],
    [2290, 3200, 2530, 1760, 1165, 985, 990, 1365],
    [2320, 3300, 2600, 1790, 1175, 982, 988, 1375],
    [2340, 3350, 2630, 1805, 1180, 985, 990, 1380],
    [2310, 3280, 2580, 1780, 1172, 980, 985, 1372],
    [2295, 3220, 2540, 1765, 1167, 985, 990, 1367],
    [2305, 3260, 2570, 1775, 1171, 982, 986, 1371],
    [2320, 3300, 2600, 1790, 1175, 980, 985, 1375],
    [2300, 3240, 2550, 1768, 1169, 985, 990, 1369],
    [2290, 3200, 2530, 1760, 1165, 982, 988, 1365],
    [2310, 3280, 2580, 1780, 1172, 985, 990, 1372],
    [2330, 3320, 2610, 1795, 1178, 980, 985, 1378],
    [2300, 3250, 2560, 1770, 1170, 985, 990, 1370],
    [2290, 3200, 2530, 1760, 1165, 982, 986, 1365],
    [2305, 3260, 2570, 1775, 1171, 980, 985, 1371],
    [2320, 3300, 2600, 1790, 1175, 985, 990, 1375],
    [2310, 3280, 2580, 1780, 1172, 982, 988, 1372],
    [2295, 3220, 2540, 1765, 1167, 985, 990, 1367],
    [2305, 3260, 2570, 1775, 1171, 980, 985, 1371],
    [2320, 3300, 2600, 1790, 1175, 985, 990, 1375],
    [2300],
]

# ---- tick labels ----
TL_5HZ_01G = [1541.8, 1541.85, 1541.9]
TR_5HZ_01G = [1540.98, 1541.0, 1541.02]
TL_15HZ_01G = [1541.75, 1541.8, 1541.85, 1541.9, 1541.95, 1542.0]
TR_15HZ_01G = [1540.98, 1540.99, 1541.0, 1541.01, 1541.02, 1541.03]
TL_10HZ_02G = [1541.7, 1541.8, 1541.9, 1542.0, 1542.1]
TR_10HZ_02G = [1540.9, 1540.95, 1541.0, 1541.05, 1541.1]
TL_15HZ_02G = [1541.8, 1541.9, 1542.0, 1542.1]
TR_15HZ_02G = [1540.95, 1541.0, 1541.05, 1541.1]
TL_10HZ_03G = [1541.6, 1541.8, 1542.0]
TR_10HZ_03G = [1540.9, 1541.0, 1541.1]
TL_15HZ_03G = [1541.5, 1542.0, 1542.5]
TR_15HZ_03G = [1540.8, 1541.0, 1541.2]
TL_10HZ_04G = [1541.6, 1541.7, 1541.8, 1541.9, 1542.0, 1542.1, 1542.2]
TR_10HZ_04G = [1540.85, 1540.9, 1540.95, 1541.0, 1541.05, 1541.1, 1541.15]
TL_15HZ_04G = [1541.6, 1541.8, 1542.0, 1542.2, 1542.4]
TR_15HZ_04G = [1540.8, 1540.9, 1541.0, 1541.1, 1541.2]
TL_20HZ_01G = [1541.7, 1541.8, 1541.9, 1542.0, 1542.1]
TR_20HZ_01G = [1540.98, 1540.99, 1541.0, 1541.01, 1541.02]
TL_20HZ_02G = [1541.65, 1541.7, 1541.75, 1541.8, 1541.85, 1541.9, 1541.95, 1542.0, 1542.05, 1542.1, 1542.15]
TR_20HZ_02G = [1540.96, 1540.97, 1540.98, 1540.99, 1541.0, 1541.01, 1541.02, 1541.03, 1541.04, 1541.05, 1541.06]
TL_20HZ_03G = [1541.5, 1541.6, 1541.7, 1541.8, 1541.9, 1542.0, 1542.1, 1542.2, 1542.3, 1542.4]
TR_20HZ_03G = [1540.92, 1540.94, 1540.96, 1540.98, 1541.0, 1541.02, 1541.04, 1541.06, 1541.08, 1541.1]
TL_20HZ_04G = [1541.0, 1541.5, 1542.0, 1542.5, 1543.0]
TR_20HZ_04G = [1540.8, 1540.9, 1541.0, 1541.1, 1541.2]
TL_25HZ = [1540.5, 1541.0, 1541.5, 1542.0, 1542.5, 1543.0, 1543.5]

LEFT_TITLE = "5.29g one resonant wavelength (nm)"
RIGHT_TITLE = "2.83g one resonant wavelength (nm)"
SINGLE_TITLE = "resonant wavelength (nm)"
X_TITLE = "Time (ms)"

# ------------------------------------------------------------------
# Panel layout (pixel boxes: left, right, top, bottom of plot area)
# ------------------------------------------------------------------
W, H = 562, 1108
PANELS = [
    dict(title="5Hz 0.1g", box=(38, 255, 13, 129), tpos=(0.53, 0.905),
         blue=(blue_5hz_01g, BASE_B_5HZ_01G, STEP_5MS), green=(green_5hz_01g, BASE_G_5HZ_01G, STEP_5MS),
         yl=(1541.788, 1541.938), yr=(1540.9747, 1541.0358), tl=TL_5HZ_01G, tr=TR_5HZ_01G),
    dict(title="15Hz 0.1g", box=(317, 533, 13, 128), tpos=(0.47, 0.913),
         blue=(blue_15hz_01g, BASE_B_15HZ_01G, STEP_15HZ), green=(green_15hz_01g, BASE_G_15HZ_01G, STEP_15HZ),
         yl=(1541.723, 1542.025), yr=(1540.9743, 1541.035), tl=TL_15HZ_01G, tr=TR_15HZ_01G),
    dict(title="10Hz 0.2g", box=(33, 251, 145, 266), tpos=(0.49, 0.876),
         blue=(blue_10hz_02g, BASE_B_10HZ_02G, STEP_5MS), green=(green_10hz_02g, BASE_G_10HZ_02G, STEP_5MS),
         yl=(1541.7, 1542.1), yr=(1540.9, 1541.1), tl=TL_10HZ_02G, tr=TR_10HZ_02G),
    dict(title="15Hz 0.2g", box=(317, 532, 148, 263), tpos=(0.48, 0.93),
         blue=(blue_15hz_02g, BASE_B_15HZ_02G, STEP_15HZ), green=(green_15hz_02g, BASE_G_15HZ_02G, STEP_15HZ),
         yl=(1541.742, 1542.157), yr=(1540.921, 1541.128), tl=TL_15HZ_02G, tr=TR_15HZ_02G),
    dict(title="10Hz 0.3g", box=(33, 251, 285, 402), tpos=(0.49, 0.915),
         blue=(blue_10hz_03g, BASE_B_10HZ_03G, STEP_5MS), green=(green_10hz_03g, BASE_G_10HZ_03G, STEP_5MS),
         yl=(1541.568, 1542.157), yr=(1540.884, 1541.178), tl=TL_10HZ_03G, tr=TR_10HZ_03G),
    dict(title="15Hz 0.3g", box=(316, 532, 285, 402), tpos=(0.5, 0.88),
         blue=(blue_15hz_03g, BASE_B_15HZ_03G, STEP_15HZ), green=(green_15hz_03g, BASE_G_15HZ_03G, STEP_15HZ),
         yl=(1541.5, 1542.5), yr=(1540.8, 1541.2), tl=TL_15HZ_03G, tr=TR_15HZ_03G),
    dict(title="10Hz 0.4g", box=(35, 248, 423, 538), tpos=(0.455, 0.96),
         blue=(blue_10hz_04g, BASE_B_10HZ_04G, STEP_5MS), green=(green_10hz_04g, BASE_G_10HZ_04G, STEP_5MS),
         yl=(1541.552, 1542.219), yr=(1540.826, 1541.16), tl=TL_10HZ_04G, tr=TR_10HZ_04G),
    dict(title="15Hz 0.4g", box=(317, 532, 428, 540), tpos=(0.5, 0.92),
         blue=(blue_15hz_04g, BASE_B_15HZ_04G, STEP_15HZ), green=(green_15hz_04g, BASE_G_15HZ_04G, STEP_15HZ),
         yl=(1541.6, 1542.456), yr=(1540.8, 1541.228), tl=TL_15HZ_04G, tr=TR_15HZ_04G),
    dict(title="20Hz 0.1g", box=(35, 249, 560, 676), tpos=(0.48, 0.94),
         blue=(blue_20hz_01g, BASE_B_20HZ_01G, STEP_5MS), green=(green_20hz_01g, BASE_G_20HZ_01G, STEP_5MS),
         yl=(1541.687, 1542.133), yr=(1540.9787, 1541.0233), tl=TL_20HZ_01G, tr=TR_20HZ_01G),
    dict(title="<b>5.29gram</b> one 25Hz 0.1g", box=(318, 535, 558, 676), tpos=(0.45, 0.915),
         line=(line_25hz_01g, BASE_25HZ_01G, STEP_5MS), yl=(1540.5, 1543.5), tl=TL_25HZ),
    dict(title="20Hz 0.2g", box=(36, 252, 697, 811), tpos=(0.48, 0.95),
         blue=(blue_20hz_02g, BASE_B_20HZ_02G, STEP_5MS), green=(green_20hz_02g, BASE_G_20HZ_02G, STEP_5MS),
         yl=(1541.627, 1542.188), yr=(1540.9577, 1541.0638), tl=TL_20HZ_02G, tr=TR_20HZ_02G),
    dict(title="<b>5.29gram</b> one 25Hz 0.2g", box=(323, 540, 697, 816), tpos=(0.5, 0.93),
         line=(line_25hz_02g, BASE_25HZ_02G, STEP_5MS), yl=(1540.5, 1543.5), tl=TL_25HZ),
    dict(title="20Hz 0.3g", box=(36, 250, 832, 947), tpos=(0.53, 0.93),
         blue=(blue_20hz_03g, BASE_B_20HZ_03G, STEP_5MS), green=(green_20hz_03g, BASE_G_20HZ_03G, STEP_5MS),
         yl=(1541.44, 1542.43), yr=(1540.908, 1541.106), tl=TL_20HZ_03G, tr=TR_20HZ_03G),
    dict(title="<b>5.29gram</b> one 25Hz 0.3g", box=(322, 537, 838, 953), tpos=(0.535, 0.913),
         line=(line_25hz_03g, BASE_25HZ_03G, STEP_5MS), yl=(1540.5, 1543.5), tl=TL_25HZ),
    dict(title="20Hz 0.4g", box=(36, 250, 972, 1085), tpos=(0.52, 0.92),
         blue=(blue_20hz_04g, BASE_B_20HZ_04G, STEP_5MS), green=(green_20hz_04g, BASE_G_20HZ_04G, STEP_5MS),
         yl=(1540.99, 1543.0), yr=(1540.798, 1541.2), tl=TL_20HZ_04G, tr=TR_20HZ_04G),
    dict(title="<b>5.29gram</b> one 25Hz 0.4g", box=(320, 537, 975, 1090), tpos=(0.53, 0.913),
         line=(line_25hz_04g, BASE_25HZ_04G, STEP_5MS), yl=(1540.5, 1543.5), tl=TL_25HZ),
]

# ------------------------------------------------------------------
# Styling
# ------------------------------------------------------------------
FONT = "Liberation Sans Narrow, Liberation Sans, Arial, sans-serif"
BLUE = "#3c3cff"
BLUE_TRACE = "rgba(70,70,255,0.30)"
BLUE_TXT = "#4a4aff"
GREEN = "#168a16"
GREEN_TRACE = "rgba(22,138,22,0.25)"
GREEN_TXT = "#2a932a"
AX = "#4a4a4a"
TXT = "#333333"
LINE_BLUE = "#6262ff"
TICK_FS = 5.2
TITLE_FS = 5.4


def series(spec):
    rows, base, step = spec
    vals = np.array([v for row in rows for v in row], dtype=float)
    t = np.arange(len(vals)) * step
    return t, base + vals / 1000.0


def fmt(v):
    return f"{v:g}"


fig = go.Figure()
layout = {}
annotations = []
right_idx = len(PANELS)

for i, p in enumerate(PANELS, start=1):
    xl, xr, yt, yb = p["box"]
    xname = "x" if i == 1 else f"x{i}"
    yname = "y" if i == 1 else f"y{i}"
    xkey = "xaxis" if i == 1 else f"xaxis{i}"
    ykey = "yaxis" if i == 1 else f"yaxis{i}"
    dual = "blue" in p

    layout[xkey] = dict(
        domain=[xl / W, xr / W], anchor=yname, range=[0, 1000],
        tickmode="array", tickvals=TIME_TICKS, ticktext=[str(v) for v in TIME_TICKS],
        ticks="inside", ticklen=2.5, tickwidth=0.6, tickcolor=AX,
        showline=True, linecolor=AX, linewidth=0.8, mirror="ticks",
        showgrid=False, zeroline=False,
        tickfont=dict(size=TICK_FS, color=TXT, family=FONT),
        title=dict(text=X_TITLE, font=dict(size=TITLE_FS, color=TXT, family=FONT), standoff=1),
    )

    lcol = BLUE if dual else AX
    ltxt = BLUE_TXT if dual else TXT
    layout[ykey] = dict(
        domain=[1 - yb / H, 1 - yt / H], anchor=xname, range=list(p["yl"]),
        tickmode="array", tickvals=p["tl"], ticktext=[fmt(v) for v in p["tl"]],
        ticks="inside", ticklen=2.5, tickwidth=0.6, tickcolor=lcol,
        showline=True, linecolor=lcol, linewidth=0.8,
        mirror=False if dual else "ticks",
        showgrid=False, zeroline=False,
        tickfont=dict(size=TICK_FS, color=ltxt, family=FONT),
        title=dict(text=LEFT_TITLE if dual else SINGLE_TITLE,
                   font=dict(size=TITLE_FS, color=ltxt, family=FONT), standoff=2),
    )

    annotations.append(dict(
        text=p["title"], xref=f"{xname} domain", yref=f"{yname} domain",
        x=p["tpos"][0], y=p["tpos"][1], showarrow=False,
        xanchor="center", yanchor="middle",
        font=dict(size=TITLE_FS, color="#222222", family=FONT),
    ))

    if dual:
        right_idx += 1
        rname = f"y{right_idx}"
        layout[f"yaxis{right_idx}"] = dict(
            anchor=xname, overlaying=yname, side="right", range=list(p["yr"]),
            tickmode="array", tickvals=p["tr"], ticktext=[fmt(v) for v in p["tr"]],
            ticks="inside", ticklen=2.5, tickwidth=0.6, tickcolor=GREEN,
            showline=True, linecolor=GREEN, linewidth=0.8,
            showgrid=False, zeroline=False,
            tickfont=dict(size=TICK_FS, color=GREEN_TXT, family=FONT),
            title=dict(text=RIGHT_TITLE, font=dict(size=TITLE_FS, color=GREEN_TXT, family=FONT), standoff=2),
        )
        tb, vb = series(p["blue"])
        tg, vg = series(p["green"])
        # blue "+" samples joined by a faint trace so each cycle reads as a curve
        fig.add_trace(go.Scatter(
            x=tb, y=vb, mode="lines+markers", xaxis=xname, yaxis=yname,
            line=dict(color=BLUE_TRACE, width=0.5),
            marker=dict(symbol="cross-thin", size=2.6, line=dict(width=0.6, color=BLUE)),
            showlegend=False, hoverinfo="skip"))
        fig.add_trace(go.Scatter(
            x=tg, y=vg, mode="lines+markers", xaxis=xname, yaxis=rname,
            line=dict(color=GREEN_TRACE, width=0.5),
            marker=dict(symbol="circle", size=1.8, color=GREEN, line=dict(width=0)),
            showlegend=False, hoverinfo="skip"))
    else:
        tl_, vl_ = series(p["line"])
        fig.add_trace(go.Scatter(
            x=tl_, y=vl_, mode="lines", xaxis=xname, yaxis=yname,
            line=dict(color=LINE_BLUE, width=0.7),
            showlegend=False, hoverinfo="skip"))

fig.update_layout(
    width=W, height=H, margin=dict(l=0, r=0, t=0, b=0),
    paper_bgcolor="white", plot_bgcolor="white",
    font=dict(family=FONT, size=TICK_FS, color=TXT),
    showlegend=False, annotations=annotations,
    **layout,
)

fig.write_html("out.html")
